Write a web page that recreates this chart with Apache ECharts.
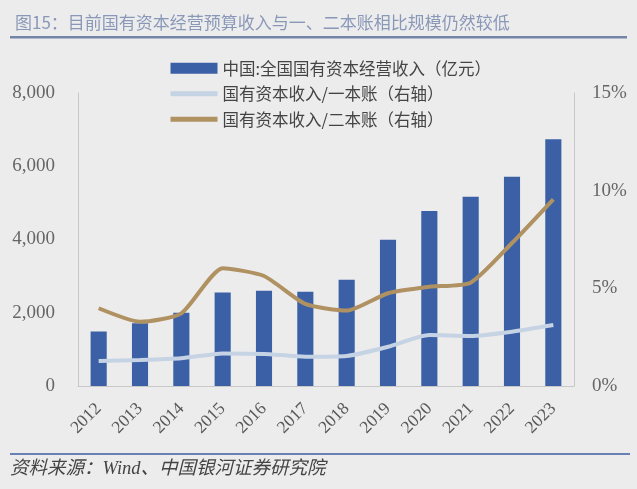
<!DOCTYPE html>
<html><head><meta charset="utf-8">
<script src="https://cdn.jsdelivr.net/npm/echarts@6/dist/echarts.min.js"></script>
<style>html,body{margin:0;padding:0;background:#ececec}#c{width:637px;height:489px}</style>
</head><body><div id="c"></div>
<script>
const categories = ['2012','2013','2014','2015','2016','2017','2018','2019','2020','2021','2022','2023'];
const revenue = [1490, 1710, 2000, 2550, 2600, 2570, 2900, 3990, 4780, 5170, 5710, 6740];
const ratioBudget1 = [1.28, 1.33, 1.42, 1.67, 1.64, 1.50, 1.54, 2.01, 2.61, 2.56, 2.78, 3.12];
const ratioBudget2 = [3.98, 3.29, 3.72, 6.03, 5.63, 4.20, 3.86, 4.75, 5.08, 5.29, 7.32, 9.56];
const leftTicks = [0, 2000, 4000, 6000, 8000];
const rightTicks = [0, 5, 10, 15];

const chart = echarts.init(document.getElementById('c'));
const numFont = '"Liberation Serif", "DejaVu Serif", serif';
const cjk = '"Noto Sans CJK SC", sans-serif';
chart.setOption({
  backgroundColor: '#ececec',
  animation: false,
  title: {
    text: '图15：目前国有资本经营预算收入与一、二本账相比规模仍然较低',
    left: 10, top: 9,
    textStyle: {fontFamily: cjk, fontSize: 17, fontWeight: 'normal', color: '#8a98b8'}
  },
  legend: {
    orient: 'vertical', left: 163, top: 55, itemGap: 9,
    itemWidth: 47, itemHeight: 11,
    textStyle: {fontFamily: cjk, fontSize: 16.5, color: '#444'},
    data: [
      {name: '中国:全国国有资本经营收入（亿元）', icon: 'rect'},
      {name: '国有资本收入/一本账（右轴）', itemStyle: {opacity: 0}, lineStyle: {width: 5}},
      {name: '国有资本收入/二本账（右轴）', itemStyle: {opacity: 0}, lineStyle: {width: 5}}
    ]
  },
  grid: {left: 78, right: 63, top: 93, bottom: 103, containLabel: false},
  xAxis: {
    type: 'category', data: categories,
    axisLine: {lineStyle: {color: '#c8c8c8', width: 1}},
    axisTick: {show: false},
    axisLabel: {rotate: 45, fontFamily: numFont, fontSize: 17.5, color: '#595959', margin: 20}
  },
  yAxis: [
    {type: 'value', min: leftTicks[0], max: leftTicks[leftTicks.length-1], interval: 2000,
     axisLine: {show: true, lineStyle: {color: '#c8c8c8'}}, axisTick: {show: false},
     splitLine: {show: false},
     axisLabel: {fontFamily: numFont, fontSize: 19, color: '#666', margin: 23,
       formatter: v => v.toLocaleString('en-US')}},
    {type: 'value', min: rightTicks[0], max: rightTicks[rightTicks.length-1], interval: 5,
     axisLine: {show: true, lineStyle: {color: '#c8c8c8'}}, axisTick: {show: false},
     splitLine: {show: false},
     axisLabel: {fontFamily: numFont, fontSize: 19, color: '#666', margin: 18, formatter: '{value}%'}}
  ],
  series: [
    {name: '中国:全国国有资本经营收入（亿元）', type: 'bar', data: revenue, barWidth: '39%',
     itemStyle: {color: '#3b60a6'}},
    {name: '国有资本收入/一本账（右轴）', type: 'line', yAxisIndex: 1, data: ratioBudget1,
     symbol: 'none', smooth: 0.2, lineStyle: {color: '#c6d3e4', width: 4}, itemStyle: {color: '#c6d3e4'}},
    {name: '国有资本收入/二本账（右轴）', type: 'line', yAxisIndex: 1, data: ratioBudget2,
     symbol: 'none', smooth: 0.2, lineStyle: {color: '#b09162', width: 4}, itemStyle: {color: '#b09162'}}
  ],
  graphic: [
    {type: 'rect', shape: {x: 10, y: 36, width: 617, height: 2.5}, style: {fill: '#7585a8'}},
    {type: 'rect', shape: {x: 10, y: 453, width: 620, height: 2}, style: {fill: '#6a7fb3'}},
    {type: 'text', left: 10, top: 460, style: {text: '资料来源：Wind、中国银河证券研究院',
      font: 'italic 18.5px "Liberation Serif", "Noto Sans CJK SC", serif', fill: '#444'}}
  ]
});
</script></body></html>
